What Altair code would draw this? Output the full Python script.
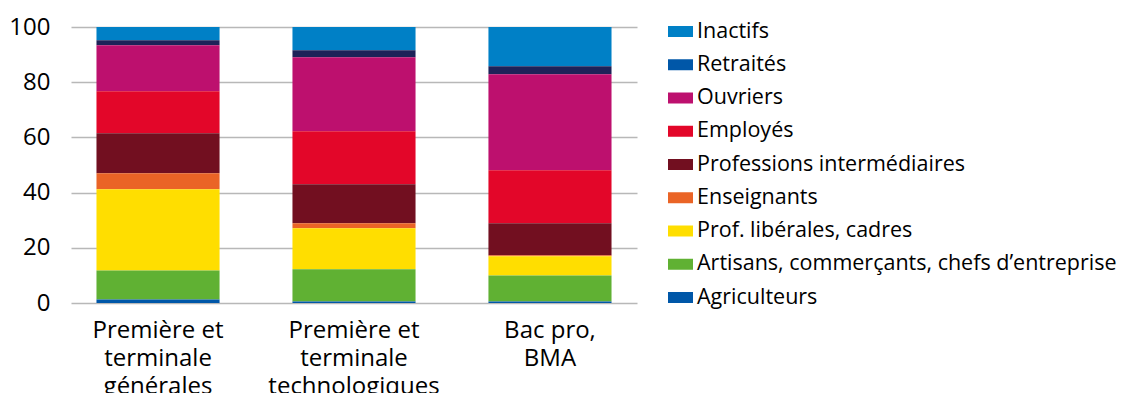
import altair as alt
import pandas as pd

categories = [
    "Première et terminale générales",
    "Première et terminale technologiques",
    "Bac pro, BMA",
]
category_labels = [
    "Première et|terminale|générales",
    "Première et|terminale|technologiques",
    "Bac pro,|BMA",
]

# legend order (top to bottom)
groups = [
    "Inactifs",
    "Retraités",
    "Ouvriers",
    "Employés",
    "Professions intermédiaires",
    "Enseignants",
    "Prof. libérales, cadres",
    "Artisans, commerçants, chefs d’entreprise",
    "Agriculteurs",
]

inactifs = [4.8, 8.4, 14.2]
retraites = [1.8, 2.6, 2.9]
ouvriers = [16.7, 26.8, 34.8]
employes = [15.2, 19.2, 19.2]
prof_inter = [14.5, 14.1, 11.6]
enseignants = [5.8, 1.8, 0.4]
cadres = [29.4, 14.9, 6.9]
artisans = [10.5, 11.7, 9.5]
agriculteurs = [1.3, 0.5, 0.5]

bar_colors = ["#0080c6", "#1d2258", "#bd106e", "#e30629", "#720f20",
              "#ea6426", "#ffde00", "#60b133", "#0057a8"]
legend_colors = ["#0080c6", "#0057a8", "#bd106e", "#e30629", "#720f20",
                 "#ea6426", "#ffde00", "#60b133", "#0057a8"]

series = [inactifs, retraites, ouvriers, employes, prof_inter,
          enseignants, cadres, artisans, agriculteurs]

rows = []
for gi, (g, vals) in enumerate(zip(groups, series)):
    for ci, lab in enumerate(category_labels):
        rows.append({"cat": lab, "group": g, "value": vals[ci],
                     "rank": len(groups) - gi})
df = pd.DataFrame(rows)

FONT = "Open Sans"

x_enc = alt.X(
    "cat:N",
    sort=category_labels,
    title=None,
    scale=alt.Scale(paddingInner=0.372, paddingOuter=0.13),
    axis=alt.Axis(
        labelAngle=0, domain=False, ticks=False, labelPadding=15,
        labelFontSize=24, labelFont=FONT, labelColor="#000000",
        labelExpr="split(datum.label, '|')", labelLineHeight=28,
        labelLimit=300,
    ),
)
y_enc = alt.Y(
    "value:Q",
    stack="zero",
    title=None,
    scale=alt.Scale(domain=[0, 100], nice=False),
    axis=alt.Axis(
        values=[0, 20, 40, 60, 80, 100], domain=False, ticks=False,
        labelPadding=21, labelFontSize=24, labelFont=FONT, labelColor="#000000",
        grid=True, gridColor="#b8b8b8", gridWidth=1.6,
    ),
)

bars = alt.Chart(df).mark_bar(strokeWidth=0).encode(
    x=x_enc,
    y=y_enc,
    color=alt.Color("group:N", scale=alt.Scale(domain=groups, range=bar_colors), legend=None),
    order=alt.Order("rank:Q", sort="ascending"),
)

legend_layer = alt.Chart(df).transform_filter("false").mark_bar().encode(
    x=alt.X("cat:N", sort=category_labels),
    y=alt.Y("value:Q", stack="zero"),
    color=alt.Color(
        "group:N",
        scale=alt.Scale(domain=groups, range=legend_colors),
        legend=alt.Legend(
            title=None, orient="none", legendX=597, legendY=-8,
            symbolType="M-1,-0.44L1,-0.44L1,0.44L-1,0.44Z",
            symbolSize=625, symbolStrokeWidth=0, symbolOpacity=1,
            labelFont=FONT, labelFontSize=21.5, labelColor="#000000",
            labelOffset=4, rowPadding=10.25, labelLimit=600,
        ),
    ),
)

chart = (
    alt.layer(bars, legend_layer)
    .resolve_scale(color="independent")
    .properties(
        width=566, height=276,
        autosize=alt.AutoSizeParams(type="none"),
        padding={"left": 63, "top": 19, "right": 485, "bottom": 90},
    )
    .configure(font=FONT, view=alt.ViewConfig(stroke=None))
)

chart.save("out.html", embed_options={"renderer": "svg", "actions": False})
